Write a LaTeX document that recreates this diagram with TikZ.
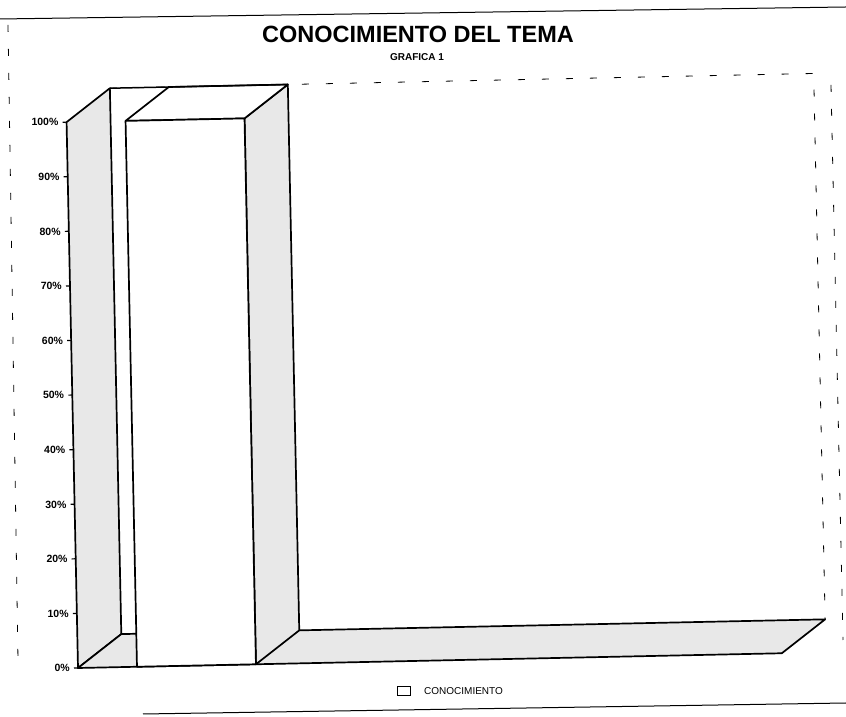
\documentclass[tikz,border=0pt]{standalone}
\usepackage{fontspec}
\setmainfont{Liberation Sans}
\usetikzlibrary{calc}

\begin{document}
\begin{tikzpicture}[x=1pt, y=1pt,
    pared/.style={fill=black!9, draw, line width=1.7pt, line join=round},
    barra/.style={fill=white, draw, line width=1.7pt, line join=round},
    borde/.style={line width=1pt},
    roto/.style={line width=0.8pt, dash pattern=on 7pt off 17pt}]
  \useasboundingbox (0,0) rectangle (846,717);
  \def\alto{546}
  \def\paso{54.6}
  \def\fx{44}
  \def\fy{33}
  \def\ancho{704}

  % Marco
  \draw[borde] (0,698) -- (846,710);
  \draw[borde] (143,3) -- (846,14);
  \draw[roto] (8,692) -- (18,57);
  \draw[roto] (831,632) -- (843,77);

  % Titulos
  \node[font=\fontsize{23.5}{26}\selectfont\bfseries, anchor=base] (titulo) at (418,674) {CONOCIMIENTO DEL TEMA};
  \node[font=\fontsize{10}{12}\selectfont\bfseries, anchor=base] (grafica) at (417,656) {GRAFICA 1};

  \begin{scope}[shift={(78,49)}, rotate=1.2]
    % Paredes y piso
    \draw[roto] (\fx,\alto+\fy) -- (\ancho+\fx,\alto+\fy) -- (\ancho+\fx,\fy);
    \draw[pared] (0,0) -- (0,\alto) -- (\fx,\alto+\fy) -- (\fx,\fy) -- cycle;
    \draw[pared] (0,0) -- (\fx,\fy) -- (\ancho+\fx,\fy) -- (\ancho,0) -- cycle;

    % Barra
    \draw[pared] (178,0) -- (178+\fx,\fy) -- (178+\fx,\alto+\fy) -- (178,\alto) -- cycle;
    \draw[barra] (59,\alto) -- (59+\fx,\alto+\fy) -- (178+\fx,\alto+\fy) -- (178,\alto) -- cycle;
    \draw[barra] (59,0) rectangle (178,\alto);
    \draw[line width=1.5pt] (\fx,\alto+\fy) -- (178+\fx,\alto+\fy);

    % Eje de porcentajes
    \foreach \k [evaluate=\k as \p using int(10*\k)] in {0,...,10} {
      \draw[line width=1.2pt] (0,\k*\paso) -- ++(-4,0);
      \node[anchor=east, font=\fontsize{10.5}{13}\selectfont\bfseries, inner sep=0pt] (eje\k) at (-8,\k*\paso) {\p\%};
    }
  \end{scope}

  % Leyenda
  \node[draw, line width=1.2pt, minimum width=13pt, minimum height=9pt, inner sep=0pt] (cuadro) at (404,26) {};
  \node[anchor=west, font=\fontsize{10}{12}\selectfont, inner sep=0pt] (leyenda) at (424,26) {CONOCIMIENTO};
\end{tikzpicture}
\end{document}
